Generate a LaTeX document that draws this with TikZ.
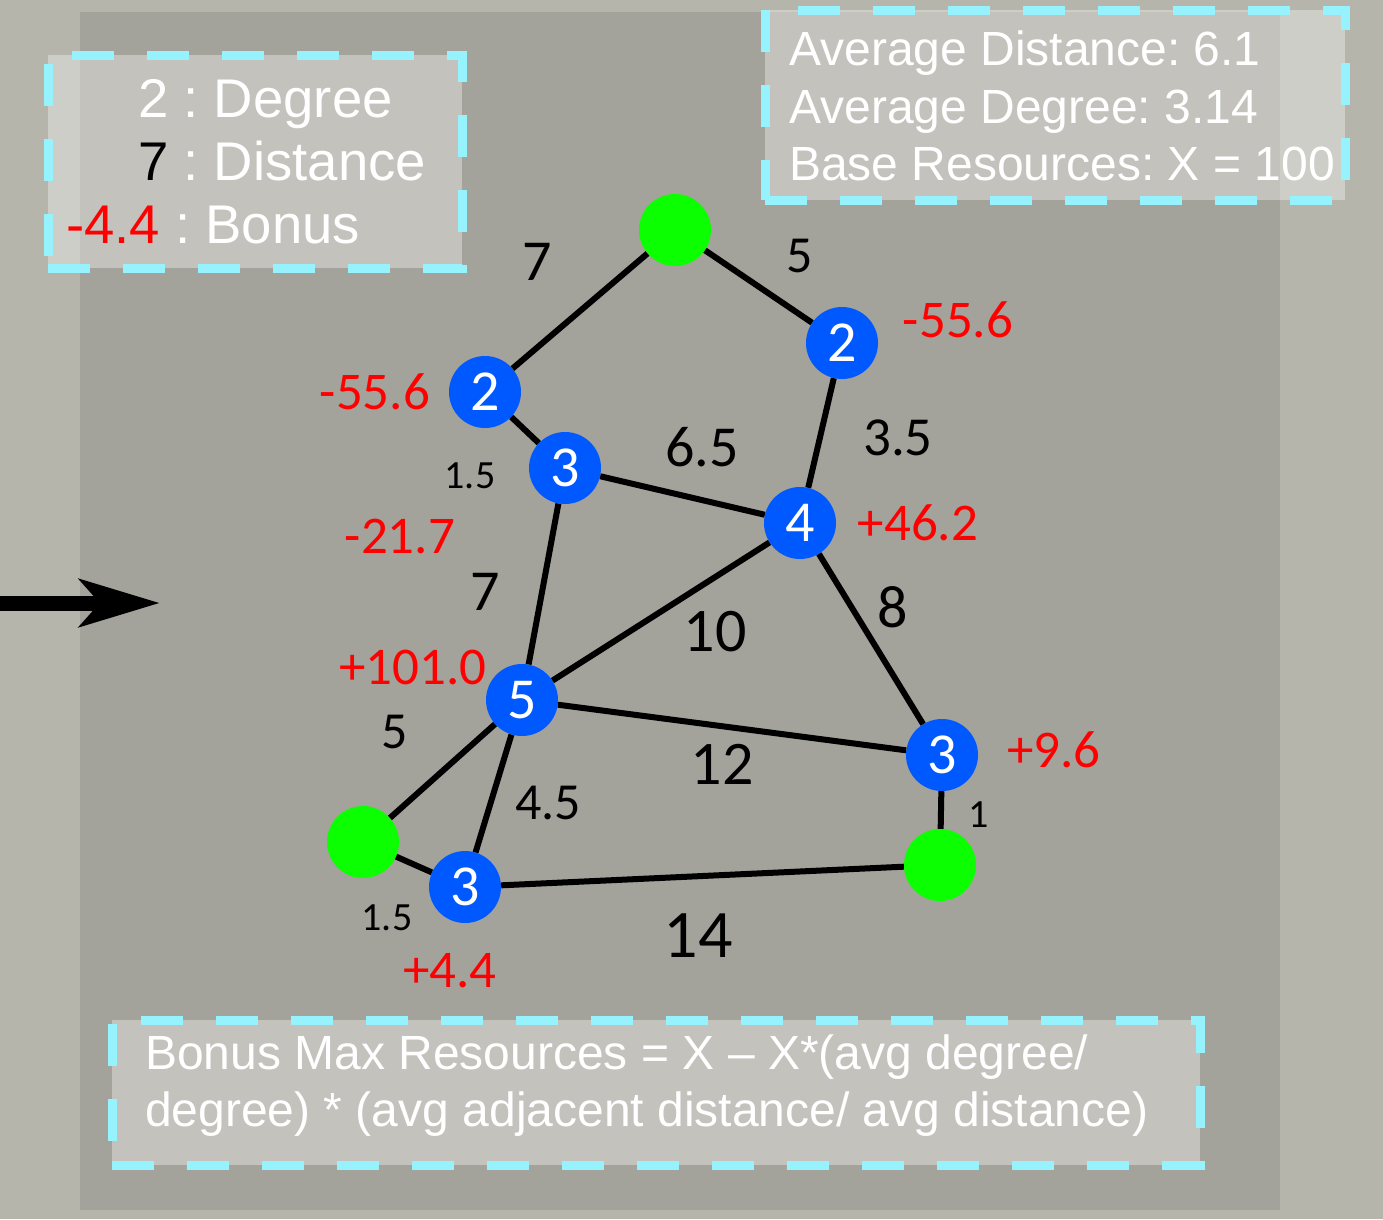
\documentclass[tikz,border=0pt]{standalone}
\usepackage{fontspec}
\setmainfont{Liberation Sans}
\newfontfamily\graphfont{Carlito}
\usetikzlibrary{arrows.meta}
\frenchspacing
\definecolor{outerbg}{RGB}{181,181,172}
\definecolor{innerbg}{RGB}{163,162,155}
\definecolor{hubblue}{RGB}{0,88,255}
\definecolor{leafgreen}{RGB}{12,255,0}
\definecolor{dashcyan}{RGB}{150,242,252}
\begin{document}
\begin{tikzpicture}[x=1pt,y=-1pt,
  hub/.style={circle,fill=hubblue,text=white,minimum size=72pt,inner sep=0pt,font=\graphfont\fontsize{58}{58}\selectfont},
  leaf/.style={circle,fill=leafgreen,minimum size=72pt,inner sep=0pt},
  wt/.style={inner sep=0pt,font=\graphfont\fontsize{#1}{#1}\selectfont},
  wt/.default=52,
  bonus/.style={inner sep=0pt,text=red,font=\graphfont\fontsize{53}{53}\selectfont},
  infobox/.style={draw=dashcyan,line width=9pt,dash pattern=on 42pt off 33pt,fill=white,fill opacity=.35,inner sep=0pt},
  infotext/.style={inner sep=0pt,text=white},
  legendtext/.style={infotext,anchor=base west,font=\fontsize{54.5}{63}\selectfont},
  link/.style={line width=6pt}]
\useasboundingbox (0,0) rectangle (1383,1219);
% background
\fill[outerbg] (0,0) rectangle (1383,1219);
\fill[innerbg] (80,12) rectangle (1280,1210);
% arrow coming in
\coordinate (arrowtail) at (-10,603);
\coordinate (arrowtip) at (160,603);
\draw[line width=15pt,-{Stealth[length=80pt,width=47pt,inset=20pt]}] (arrowtail) -- (arrowtip);
% legend
\node[infobox,minimum width=414pt,minimum height=213pt] (legendbox) at (255,161.5) {};
\node[legendtext] (legdeg) at (138,117) {2 : Degree};
\node[legendtext] (legdist) at (138,180) {\textcolor{black}{7} : Distance};
\node[legendtext] (legbonus) at (66,243) {\textcolor{red}{-4.4} : Bonus};
% stats
\node[infobox,minimum width=580pt,minimum height=190pt] (statsbox) at (1055,105) {};
\node[infotext,anchor=north west,align=left,font=\fontsize{48}{57.5}\selectfont] (stats) at (789,30.6)
  {Average Distance: 6.1\\Average Degree: 3.14\\Base Resources: X = 100};
% formula
\node[infobox,minimum width=1088pt,minimum height=145pt] (formulabox) at (656,1092.5) {};
\node[infotext,anchor=north west,align=left,font=\fontsize{48}{57}\selectfont] (formula) at (145,1034)
  {Bonus Max Resources = X – X*(avg degree/\\degree) * (avg adjacent distance/ avg distance)};
% graph
\node[leaf] (gtop) at (675,230) {};
\node[hub] (rtwo) at (842,343) {2};
\node[hub] (ltwo) at (485,392) {2};
\node[hub] (uthree) at (565,468) {3};
\node[hub] (four) at (800,523) {4};
\node[hub] (five) at (522,700) {5};
\node[hub] (rthree) at (942,755) {3};
\node[leaf] (gleft) at (363,842) {};
\node[hub] (bthree) at (465,887) {3};
\node[leaf] (gright) at (940,865) {};
\foreach \a/\b in {gtop/ltwo,gtop/rtwo,ltwo/uthree,rtwo/four,uthree/four,uthree/five,four/five,four/rthree,five/rthree,five/gleft,five/bthree,gleft/bthree,bthree/gright,rthree/gright}
  \draw[link] (\a) -- (\b);
% distances
\node[wt=58] (dA) at (537,262) {7};
\node[wt] (dB) at (800,256) {5};
\node[wt=40] (dC) at (470,476) {1.5};
\node[wt=58] (dD) at (702,447) {6.5};
\node[wt=55] (dE) at (898,438) {3.5};
\node[wt=58] (dF) at (485,592) {7};
\node[wt=60] (dG) at (893,607) {8};
\node[wt=62] (dH) at (715,632) {10};
\node[wt] (dI) at (395,732) {5};
\node[wt=62] (dJ) at (722,764) {12};
\node[wt=40] (dK) at (979,815) {1};
\node[wt] (dL) at (548,803) {4.5};
\node[wt=40] (dM) at (387,918) {1.5};
\node[wt=68] (dN) at (698,936) {14};
% bonuses
\node[bonus] (bA) at (958,320) {-55.6};
\node[bonus] (bB) at (375,392) {-55.6};
\node[bonus] (bC) at (918,523) {+46.2};
\node[bonus] (bD) at (400,536) {-21.7};
\node[bonus] (bE) at (413,667) {+101.0};
\node[bonus] (bF) at (1054,750) {+9.6};
\node[bonus] (bG) at (450,971) {+4.4};
\end{tikzpicture}
\end{document}
